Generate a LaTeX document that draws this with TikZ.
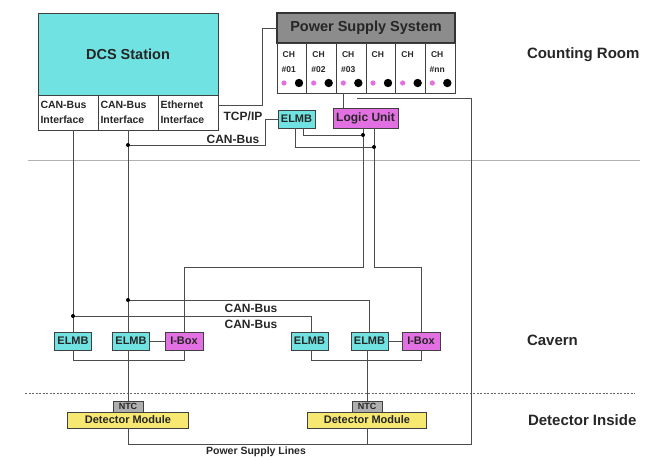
\documentclass[tikz,border=0pt]{standalone}
\usepackage{fontspec}
\setmainfont{Liberation Sans}
\definecolor{cyanc}{RGB}{112,226,226}
\definecolor{magc}{RGB}{226,112,226}
\definecolor{yelc}{RGB}{246,232,112}
\definecolor{hdr}{RGB}{140,140,140}
\definecolor{ntcc}{RGB}{175,175,175}
\begin{document}
\begin{tikzpicture}[x=1pt,y=-1pt,
  every node/.style={inner sep=0pt, outer sep=0pt},
  bx/.style={draw=black!75, line width=0.9pt, rectangle, text=black!85, font=\bfseries\fontsize{11}{12}\selectfont},
  elmbbox/.style={bx, fill=cyanc, minimum width=37pt, minimum height=18pt},
  iboxbox/.style={bx, fill=magc, minimum width=38pt, minimum height=18pt},
  cellbox/.style={bx, fill=white, minimum width=60pt, minimum height=35pt, text width=55pt, align=left, font=\bfseries\fontsize{10.5}{15}\selectfont},
  chbox/.style={bx, fill=white, minimum width=29.67pt, minimum height=50pt},
  wire/.style={draw=black!70, line width=0.9pt},
  lbl/.style={font=\bfseries\fontsize{12}{14}\selectfont, text=black!85},
  zone/.style={font=\bfseries\fontsize{15}{17}\selectfont, anchor=west, text=black!85}
]
\path[use as bounding box] (0,0) rectangle (649,459);

% dividers
\draw[gray!60, line width=0.7pt] (28,160) -- (640,160);
\draw[black!60, line width=0.8pt, dash pattern=on 2pt off 1.5pt] (25,393) -- (635,393);

% DCS station
\node[bx, fill=cyanc, minimum width=180pt, minimum height=82pt, font=\bfseries\fontsize{14.5}{16}\selectfont] (dcs) at (128,54) {DCS Station};
\node[cellbox] (ifA) at (68,112.5) {CAN-Bus\\Interface};
\node[cellbox] (ifB) at (128,112.5) {CAN-Bus\\Interface};
\node[cellbox] (ifC) at (188,112.5) {Ethernet\\Interface};

% Power supply system
\node[bx, draw=black!80, line width=1.2pt, fill=hdr, minimum width=178pt, minimum height=30pt, font=\bfseries\fontsize{14.5}{16}\selectfont] (pss) at (366,28) {Power Supply System};
\foreach \i/\t in {1/\#01,2/\#02,3/\#03,4/,5/,6/\#nn}{
  \node[chbox] (ch\i) at ({277+(\i-0.5)*29.667},68) {};
  \node[font=\bfseries\fontsize{8.5}{9}\selectfont, text=black!85] (cht\i) at ([xshift=-3pt,yshift=13pt]ch\i.center) {CH};
  \node[font=\bfseries\fontsize{8.5}{9}\selectfont, text=black!85] (chn\i) at ([xshift=-3pt,yshift=-2pt]ch\i.center) {\t};
  \fill[magc] ([xshift=7pt,yshift=10pt]ch\i.south west) circle (2.6pt);
  \fill[black] ([xshift=22pt,yshift=10pt]ch\i.south west) circle (4.2pt);
}

% counting-room ELMB and logic unit
\node[elmbbox] (elmbC) at (296.5,119) {ELMB};
\node[bx, fill=magc, minimum width=65pt, minimum height=20pt, font=\bfseries\fontsize{12}{13}\selectfont] (lu) at (365.5,118) {Logic Unit};

% cavern
\node[elmbbox] (elmbA) at (73,341) {ELMB};
\node[elmbbox] (elmbB) at (131,341) {ELMB};
\node[iboxbox] (iboxA) at (184,341) {I-Box};
\node[elmbbox] (elmbE) at (309.5,341) {ELMB};
\node[elmbbox] (elmbD) at (369.5,341) {ELMB};
\node[iboxbox] (iboxB) at (421,341) {I-Box};

% detector inside
\node[bx, fill=ntcc, minimum width=30pt, minimum height=11pt, font=\bfseries\fontsize{9}{10}\selectfont] (ntcA) at (128,406.5) {NTC};
\node[bx, fill=yelc, minimum width=121pt, minimum height=16pt, font=\bfseries\fontsize{11}{12}\selectfont] (detA) at (128,420) {Detector Module};
\node[bx, fill=ntcc, minimum width=30pt, minimum height=11pt, font=\bfseries\fontsize{9}{10}\selectfont] (ntcB) at (367,406.5) {NTC};
\node[bx, fill=yelc, minimum width=119pt, minimum height=16pt, font=\bfseries\fontsize{11}{12}\selectfont] (detB) at (367,420) {Detector Module};

% coordinates
\coordinate (t1) at (262,105);
\coordinate (c1) at (265,145);
\coordinate (j1) at (363,135);
\coordinate (j2) at (374,147);
\coordinate (b1) at (363,267);
\coordinate (b2) at (374,267);
\coordinate (k1) at (128,300);
\coordinate (k2) at (73,316);
\coordinate (p0) at (357,98);
\coordinate (p1) at (471,98);
\coordinate (p2) at (471,444);

% wires
\draw[wire] (ifA.south -| elmbA) -- (elmbA.north);
\draw[wire] (ifB.south) -- (ifB.south |- elmbB.north);
\draw[wire] (ifC.east |- t1) -- (t1) -- (t1 |- pss.west) -- (pss.west);
\draw[wire] (elmbC.west) -- (elmbC.west -| c1) -- (c1) -- (c1 -| ifB.south);
\draw[wire] ([xshift=6.5pt]elmbC.south) |- (j1);
\draw[wire] ([xshift=-1.5pt]elmbC.south) |- (j2);
\draw[wire] (lu.south -| b1) -- (b1) -| (iboxA.north);
\draw[wire] (lu.south -| b2) -- (b2) -| (iboxB.north);
\draw[wire] ([xshift=-22.5pt]lu.north) -- ([xshift=-22.5pt]lu.north |- ch3.south);
\draw[wire] (k1) -| (elmbD.north);
\draw[wire] (k2) -| ([xshift=1.5pt]elmbE.north);
\draw[wire] (elmbA.south) -- ++(0,10) -| (iboxA.south);
\draw[wire] ([xshift=1.5pt]elmbE.south) -- ++(0,10) -| (iboxB.south);
\draw[wire] (elmbB.east) -- (iboxA.west);
\draw[wire] (elmbD.east) -- (iboxB.west);
\draw[wire] (ntcA.north |- elmbB.south) -- (ntcA.north);
\draw[wire] (ntcB.north |- elmbD.south) -- (ntcB.north);
\draw[wire] (p0) -- (p1) -- (p2) -- (p2 -| detA.south);
\draw[wire] (detA.south) -- (detA.south |- p2);
\draw[wire] (detB.south) -- (detB.south |- p2);

% junctions
\foreach \p in {j1,j2,k1,k2}{\fill[black] (\p) circle (2pt);}
\fill[black] (c1 -| ifB.south) circle (2pt);

% labels
\node[lbl] (tcp) at (243,116) {TCP/IP};
\node[lbl] (canA) at (233,139) {CAN-Bus};
\node[lbl] (canB) at (251,308) {CAN-Bus};
\node[lbl] (canC) at (251,324) {CAN-Bus};
\node[font=\bfseries\fontsize{10.5}{12}\selectfont, text=black!85] (psl) at (256,452) {Power Supply Lines};
\node[zone] (cr) at (527,55) {Counting Room};
\node[zone] (cav) at (527,340) {Cavern};
\node[zone] (det) at (528,420) {Detector Inside};
\end{tikzpicture}
\end{document}
